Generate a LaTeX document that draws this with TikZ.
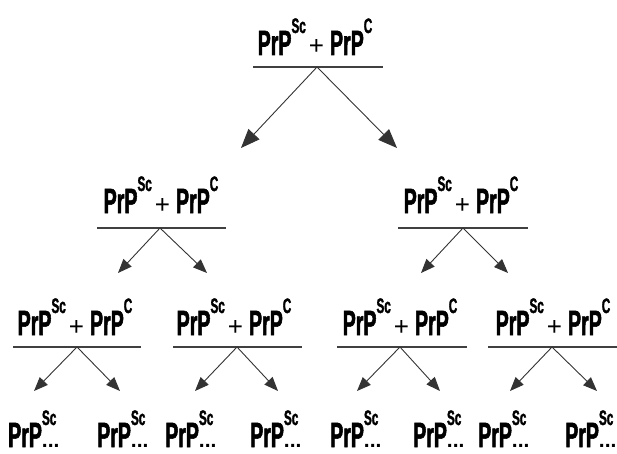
\documentclass[tikz,border=0pt]{standalone}
\usepackage{fontspec}
\setmainfont{Liberation Sans}
\newfontfamily\cf[FakeStretch=0.56,FakeBold=1.5]{Liberation Sans}
\newfontfamily\nf{Liberation Sans}
\usetikzlibrary{arrows.meta}
\newcommand{\pp}{PrP}
\newcommand{\su}[1]{\raisebox{22pt}{\fontsize{21}{21}\selectfont #1}}
\newcommand{\pl}{\hspace{3pt}{\nf\mdseries\fontsize{26}{26}\selectfont +}\hspace{6pt}}
\newcommand{\eqn}{\pp\su{Sc}\pl\pp\su{C}}
\newcommand{\lab}{\pp\makebox[0pt][l]{\su{Sc}}{\nf\bfseries\fontsize{21}{21}\selectfont ...}}
\tikzset{
  eqtext/.style={anchor=base, inner sep=0pt, font=\cf\bfseries\fontsize{35}{35}\selectfont},
  labtext/.style={anchor=base west, inner sep=0pt, font=\cf\bfseries\fontsize{35}{35}\selectfont},
  bar/.style={draw=black!75, line width=1.6pt},
  arr/.style={draw=black!80, line width=0.9pt, -{Triangle[length=14pt,width=11pt]}},
  bigarr/.style={draw=black!80, line width=0.9pt, -{Triangle[length=19pt,width=15pt]}}
}
\begin{document}
\begin{tikzpicture}[x=1pt,y=-1pt]
\useasboundingbox (0,0) rectangle (617,454);
% top
\node[eqtext] (t0) at (315,55) {\eqn};
\coordinate (t0a) at (253,67); \coordinate (t0b) at (383,67); \coordinate (t0x) at (317,67);
\coordinate (t0l) at (241,148); \coordinate (t0r) at (397,148);
\draw[bar] (t0a) -- (t0b);
\draw[bigarr] (t0x) -- (t0l);
\draw[bigarr] (t0x) -- (t0r);
% level 2
\node[eqtext] (t1) at (161,213) {\eqn};
\coordinate (t1a) at (97,228); \coordinate (t1b) at (226,228); \coordinate (t1x) at (160,228);
\coordinate (t1l) at (118,273); \coordinate (t1r) at (207,273);
\node[eqtext] (t2) at (461,213) {\eqn};
\coordinate (t2a) at (398,228); \coordinate (t2b) at (528,228); \coordinate (t2x) at (463,228);
\coordinate (t2l) at (421,273); \coordinate (t2r) at (508,273);
\foreach \n in {t1,t2}{
  \draw[bar] (\n a) -- (\n b);
  \draw[arr] (\n x) -- (\n l);
  \draw[arr] (\n x) -- (\n r);
}
% level 3
\node[eqtext] (g1) at (75,335) {\eqn};
\coordinate (g1a) at (13,347); \coordinate (g1b) at (141,347); \coordinate (g1x) at (77,347);
\coordinate (g1l) at (34,391); \coordinate (g1r) at (120,391);
\node[eqtext] (g2) at (234,335) {\eqn};
\coordinate (g2a) at (173,347); \coordinate (g2b) at (302,347); \coordinate (g2x) at (237,347);
\coordinate (g2l) at (195,391); \coordinate (g2r) at (278,391);
\node[eqtext] (g3) at (400,335) {\eqn};
\coordinate (g3a) at (337,347); \coordinate (g3b) at (467,347); \coordinate (g3x) at (400,347);
\coordinate (g3l) at (357,391); \coordinate (g3r) at (440,391);
\node[eqtext] (g4) at (553,335) {\eqn};
\coordinate (g4a) at (488,347); \coordinate (g4b) at (617,347); \coordinate (g4x) at (552,347);
\coordinate (g4l) at (510,391); \coordinate (g4r) at (597,391);
\foreach \n in {g1,g2,g3,g4}{
  \draw[bar] (\n a) -- (\n b);
  \draw[arr] (\n x) -- (\n l);
  \draw[arr] (\n x) -- (\n r);
}
% bottom labels
\node[labtext] (b1) at (8,447) {\lab};
\node[labtext] (b2) at (97,447) {\lab};
\node[labtext] (b3) at (165,447) {\lab};
\node[labtext] (b4) at (250,447) {\lab};
\node[labtext] (b5) at (330,447) {\lab};
\node[labtext] (b6) at (413,447) {\lab};
\node[labtext] (b7) at (478,447) {\lab};
\node[labtext] (b8) at (565,447) {\lab};
\end{tikzpicture}
\end{document}
